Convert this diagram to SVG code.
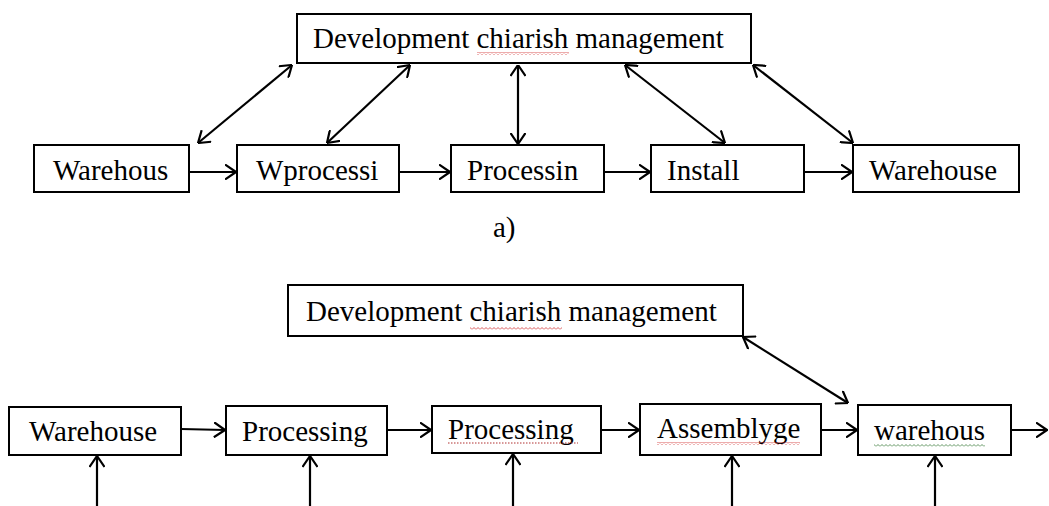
<svg xmlns="http://www.w3.org/2000/svg" width="1049" height="506" viewBox="0 0 1049 506">
<style>
.box{fill:#fff;stroke:#000;stroke-width:2}
.t{font-family:"Liberation Serif","Times New Roman",serif;font-size:29px;fill:#000}
.c line{stroke:#000;stroke-width:2.2}
.one{marker-end:url(#ah)}
.two{marker-start:url(#ah);marker-end:url(#ah)}
</style>
<defs>
<marker id="ah" viewBox="0 0 12 16" refX="11.5" refY="8" markerWidth="12" markerHeight="16" markerUnits="userSpaceOnUse" orient="auto-start-reverse">
<path d="M0.5,0.5 L11.5,8 L0.5,15.5" fill="none" stroke="#000" stroke-width="2.2"/>
</marker>
<pattern id="wr" width="4" height="3" patternUnits="userSpaceOnUse">
<path d="M0,2.5 L2,0.5 L4,2.5" fill="none" stroke="#d03030" stroke-width="0.8"/>
</pattern>
<pattern id="wg" width="4" height="3" patternUnits="userSpaceOnUse">
<path d="M0,2.5 L2,0.5 L4,2.5" fill="none" stroke="#3a7a3a" stroke-width="0.8"/>
</pattern>
</defs>
<rect width="1049" height="506" fill="#fff"/>

<g id="connectors" class="c">
<line class="two" x1="292" y1="65" x2="198" y2="143"/>
<line class="two" x1="410" y1="65" x2="327" y2="143"/>
<line class="two" x1="518" y1="65" x2="518" y2="144"/>
<line class="two" x1="625" y1="65" x2="725" y2="143"/>
<line class="two" x1="753" y1="65" x2="853" y2="143"/>
<line class="one" x1="189" y1="172" x2="236" y2="172"/>
<line class="one" x1="399" y1="172" x2="450" y2="172"/>
<line class="one" x1="604" y1="172" x2="650" y2="172"/>
<line class="one" x1="804" y1="172" x2="852" y2="172"/>
<line class="two" x1="743" y1="337" x2="848" y2="403"/>
<line class="one" x1="181" y1="429" x2="225" y2="430"/>
<line class="one" x1="387" y1="430" x2="431" y2="430"/>
<line class="one" x1="601" y1="430" x2="639" y2="430"/>
<line class="one" x1="821" y1="430" x2="857" y2="430"/>
<line class="one" x1="1011" y1="430" x2="1047" y2="430"/>
<line class="one" x1="97" y1="506" x2="97" y2="456"/>
<line class="one" x1="310" y1="506" x2="310" y2="456"/>
<line class="one" x1="513" y1="506" x2="513" y2="454"/>
<line class="one" x1="732" y1="506" x2="732" y2="456"/>
<line class="one" x1="935" y1="506" x2="935" y2="456"/>
</g>

<g id="dev-a">
<rect class="box" x="297" y="14" width="454" height="49"/>
<text class="t" x="313" y="48">Development chiarish management</text>
<rect x="477" y="52" width="92" height="3" fill="url(#wr)"/>
</g>
<g id="a-warehous">
<rect class="box" x="34" y="145" width="155" height="47"/>
<text class="t" x="53" y="180">Warehous</text>
</g>
<g id="a-wprocessi">
<rect class="box" x="237" y="145" width="162" height="47"/>
<text class="t" x="256" y="180">Wprocessi</text>
</g>
<g id="a-processin">
<rect class="box" x="451" y="145" width="153" height="47"/>
<text class="t" x="467" y="180">Processin</text>
</g>
<g id="a-install">
<rect class="box" x="651" y="145" width="153" height="47"/>
<text class="t" x="667" y="180">Install</text>
</g>
<g id="a-warehouse">
<rect class="box" x="853" y="145" width="166" height="47"/>
<text class="t" x="869" y="180">Warehouse</text>
</g>
<g id="label-a">
<text class="t" x="493" y="237">a)</text>
</g>

<g id="dev-b">
<rect class="box" x="288" y="285" width="455" height="51"/>
<text class="t" x="306" y="321">Development chiarish management</text>
<rect x="470" y="327" width="92" height="3" fill="url(#wr)"/>
</g>
<g id="b-warehouse">
<rect class="box" x="9" y="407" width="172" height="48"/>
<text class="t" x="29" y="441">Warehouse</text>
</g>
<g id="b-processing1">
<rect class="box" x="226" y="406" width="161" height="49"/>
<text class="t" x="242" y="441">Processing</text>
</g>
<g id="b-processing2">
<rect class="box" x="432" y="406" width="169" height="47"/>
<text class="t" x="448" y="439">Processing</text>
<line x1="448" y1="443" x2="578" y2="443" stroke="#b03030" stroke-width="1" stroke-dasharray="1.5,1.5"/>
</g>
<g id="b-assemblyge">
<rect class="box" x="640" y="404" width="181" height="51"/>
<text class="t" x="657" y="438">Assemblyge</text>
<rect x="657" y="442" width="143" height="3" fill="url(#wr)"/>
</g>
<g id="b-warehous">
<rect class="box" x="858" y="405" width="153" height="50"/>
<text class="t" x="874" y="440">warehous</text>
<rect x="874" y="444" width="111" height="3" fill="url(#wg)"/>
</g>
</svg>
